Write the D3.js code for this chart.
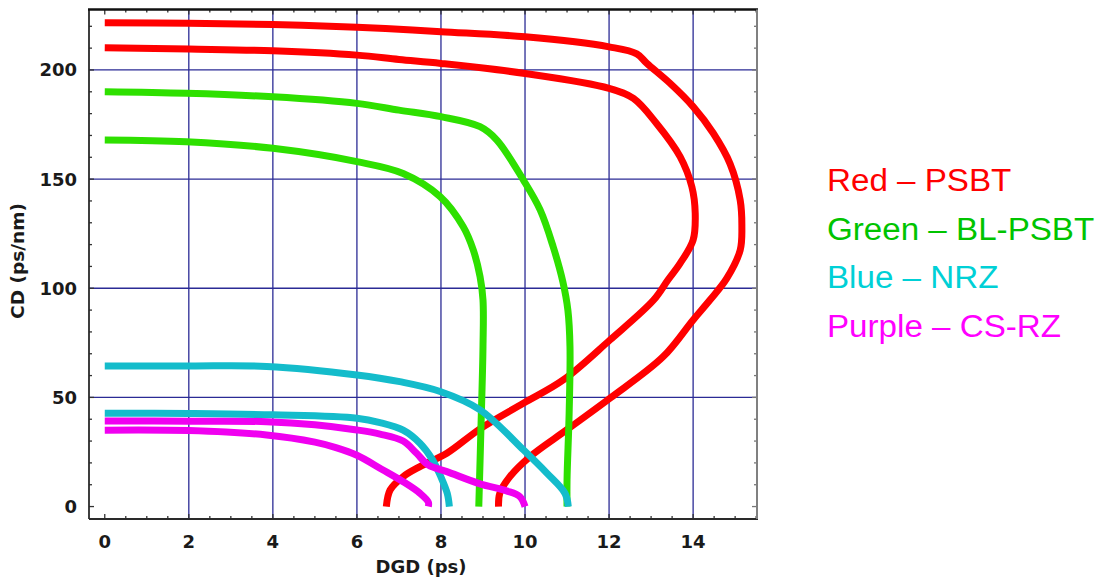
<!DOCTYPE html>
<html>
<head>
<meta charset="utf-8">
<script src="https://cdn.jsdelivr.net/npm/d3@7"></script>
<style>
body { margin: 0; background: #fff; }
</style>
</head>
<body>
<div id="chart"></div>
<script>
//Tick labels of the two axes
var xTickValues = [0, 2, 4, 6, 8, 10, 12, 14];
var yTickValues = [0, 50, 100, 150, 200];

//Legend texts
var legendLabels = ["Red \u2013 PSBT", "Green \u2013 BL-PSBT", "Blue \u2013 NRZ", "Purple \u2013 CS-RZ"];

//Curves: [DGD (ps), CD (ps/nm)]
var psbtOuter = [[0, 221.6], [2, 221.4], [4, 220.8], [6, 219.6], [7, 218.7], [8, 217.5], [10, 215.2], [12, 210.6],
    [12.66, 207.4], [12.9, 203], [13.45, 193.9], [14.0, 183.2], [14.48, 171], [14.88, 157], [15.12, 140.4],
    [15.16, 128.2], [15.12, 117.5], [14.8, 104.5], [14.4, 94.6], [14.0, 85.5], [13.29, 68.7], [12.02, 49.6],
    [10.99, 35.1], [10.12, 22.9], [9.64, 13.7], [9.4, 6.1], [9.37, 0]];
var psbtInner = [[0, 210.2], [2, 209.6], [4, 208.8], [6, 206.8], [7, 204.8], [8, 203], [10, 198.4], [12, 191.6],
    [12.58, 187], [13.13, 175.5], [13.69, 160.3], [13.97, 146.5], [14.05, 134.3], [14.0, 122.1], [13.69, 111.4],
    [13.4, 103.8], [13.06, 94.6], [12.02, 76.3], [10.91, 58], [9.96, 47.3], [8.93, 35.6], [8.14, 24.4],
    [7.5, 18.3], [7.1, 13.7], [6.79, 7.6], [6.7, 0]];
var blpsbtOuter = [[0, 190], [1.94, 189.3], [4, 187.7], [6, 184.7], [7, 181.6], [8, 178.6], [8.93, 174],
    [9.33, 167.9], [9.96, 149.6], [10.36, 135.9], [10.67, 119], [10.9, 103], [11.02, 90], [11.07, 73.3],
    [11.05, 42.8], [11.0, 12.2], [11.0, 0]];
var blpsbtInner = [[0, 167.9], [1.94, 167.1], [4, 164.1], [6, 158], [7.1, 152.6], [7.98, 142], [8.53, 128.2],
    [8.77, 117.5], [8.93, 105.3], [9.0, 94.6], [9.0, 73.3], [8.95, 35], [8.9, 0]];
var nrzOuter = [[0, 64.4], [2, 64.4], [3.85, 64.2], [6, 60.3], [7.02, 57.2], [7.98, 52.7], [8.93, 44.3],
    [9.96, 26], [10.52, 15.3], [10.95, 6.1], [11.03, 0]];
var nrzInner = [[0, 42.8], [2, 42.6], [4, 42], [6, 40.5], [6.55, 38.5], [7.1, 35], [7.5, 29], [7.8, 21.4],
    [8.0, 13.5], [8.15, 6], [8.2, 0]];
var csrzUpper = [[0, 39.2], [2, 39.1], [3.85, 38.9], [5, 37.5], [6, 35.1], [6.55, 33.2], [7.1, 30],
    [7.42, 24.4], [7.7, 19], [8.14, 16], [8.93, 10.4], [9.56, 7.2], [9.88, 4.5], [10, 0]];
var csrzLower = [[0, 35], [2, 34.8], [3.85, 32.8], [5, 29.5], [5.5, 27], [6, 23.5], [6.6, 17],
    [7.1, 11.4], [7.5, 6.1], [7.7, 2], [7.7, 0]];

var curves = [psbtOuter, psbtInner, blpsbtOuter, blpsbtInner, nrzOuter, nrzInner, csrzUpper, csrzLower];
var curveColors = ["#ff0000", "#ff0000", "#2ee000", "#2ee000", "#14bccb", "#14bccb", "#f000f0", "#f000f0"];
var legendColors = ["#ff0000", "#00c400", "#00d0d6", "#ff00ff"];

///////////////////////////////////////////////////////////////////////////
////////////////////////// Scales and svg /////////////////////////////////
///////////////////////////////////////////////////////////////////////////

var width = 1102, height = 580;

var x = d3.scaleLinear().domain([-0.375, 15.52]).range([89, 757]);
var y = d3.scaleLinear().domain([-5.7, 227.7]).range([519, 9.5]);

var svg = d3.select("#chart").append("svg")
    .attr("width", width)
    .attr("height", height);

var x0 = x.range()[0], x1 = x.range()[1];
var yB = y.range()[0], yT = y.range()[1];

//Grid lines
svg.append("g")
    .selectAll("line")
    .data(xTickValues.filter(function (d) { return d > 0; }))
    .enter().append("line")
    .attr("x1", function (d) { return x(d); })
    .attr("x2", function (d) { return x(d); })
    .attr("y1", yT).attr("y2", yB)
    .attr("stroke", "#2b2b95").attr("stroke-width", 1.3);

svg.append("g")
    .selectAll("line")
    .data(yTickValues.filter(function (d) { return d > 0; }))
    .enter().append("line")
    .attr("y1", function (d) { return y(d); })
    .attr("y2", function (d) { return y(d); })
    .attr("x1", x0).attr("x2", x1)
    .attr("stroke", "#2b2b95").attr("stroke-width", 1.3);

//Minor / major ticks, pointing inwards on all four sides
var xMinor = d3.range(0, 15.51, 0.5);
var yMinor = d3.range(0, 221, 10);
var ticks = svg.append("g").attr("stroke", "#333").attr("stroke-width", 1.3);

ticks.selectAll(".tb").data(xMinor).enter().append("line")
    .attr("x1", function (d) { return x(d); }).attr("x2", function (d) { return x(d); })
    .attr("y1", yB).attr("y2", function (d) { return yB - (d % 2 === 0 ? 5 : 3); });
ticks.selectAll(".tt").data(xMinor).enter().append("line")
    .attr("x1", function (d) { return x(d); }).attr("x2", function (d) { return x(d); })
    .attr("y1", yT).attr("y2", function (d) { return yT + (d % 2 === 0 ? 5 : 3); });
ticks.selectAll(".tl").data(yMinor).enter().append("line")
    .attr("y1", function (d) { return y(d); }).attr("y2", function (d) { return y(d); })
    .attr("x1", x0).attr("x2", function (d) { return x0 + (d % 50 === 0 ? 5 : 3); });
ticks.selectAll(".tr").data(yMinor).enter().append("line")
    .attr("y1", function (d) { return y(d); }).attr("y2", function (d) { return y(d); })
    .attr("x1", x1).attr("x2", function (d) { return x1 - (d % 50 === 0 ? 5 : 3); })
    .attr("stroke", "#777");

///////////////////////////////////////////////////////////////////////////
/////////////////////////////// Curves ////////////////////////////////////
///////////////////////////////////////////////////////////////////////////

var line = d3.line()
    .x(function (d) { return x(d[0]); })
    .y(function (d) { return y(d[1]); })
    .curve(d3.curveCatmullRom.alpha(0.5));

svg.append("g")
    .selectAll("path")
    .data(curves)
    .enter().append("path")
    .attr("d", line)
    .attr("fill", "none")
    .attr("stroke", function (d, i) { return curveColors[i]; })
    .attr("stroke-width", 7)
    .attr("stroke-linejoin", "round");

//Frame
svg.append("line").attr("x1", x0).attr("x2", x0).attr("y1", yT).attr("y2", yB)
    .attr("stroke", "#2a2a2a").attr("stroke-width", 1.8);
svg.append("line").attr("x1", x0).attr("x2", x1 + 1).attr("y1", yB).attr("y2", yB)
    .attr("stroke", "#2a2a2a").attr("stroke-width", 2);
svg.append("line").attr("x1", x0 - 1).attr("x2", x1 + 1).attr("y1", yT).attr("y2", yT)
    .attr("stroke", "#111").attr("stroke-width", 2.5);
svg.append("line").attr("x1", x1).attr("x2", x1).attr("y1", yT).attr("y2", yB)
    .attr("stroke", "#808080").attr("stroke-width", 2);

///////////////////////////////////////////////////////////////////////////
//////////////////////////// Labels ///////////////////////////////////////
///////////////////////////////////////////////////////////////////////////

var labelFont = "'DejaVu Sans', Verdana, sans-serif";

svg.append("g")
    .selectAll("text")
    .data(xTickValues)
    .enter().append("text")
    .attr("x", function (d) { return x(d); })
    .attr("y", 548)
    .attr("text-anchor", "middle")
    .style("font-family", labelFont).style("font-weight", "bold").style("font-size", "18px")
    .attr("fill", "#1a1a1a")
    .text(function (d) { return d; });

svg.append("g")
    .selectAll("text")
    .data(yTickValues)
    .enter().append("text")
    .attr("x", 77)
    .attr("y", function (d) { return y(d) + 6.5; })
    .attr("text-anchor", "end")
    .style("font-family", labelFont).style("font-weight", "bold").style("font-size", "18px")
    .attr("fill", "#1a1a1a")
    .text(function (d) { return d; });

svg.append("text")
    .attr("x", 421).attr("y", 573)
    .attr("text-anchor", "middle")
    .style("font-family", labelFont).style("font-weight", "bold").style("font-size", "18px")
    .attr("fill", "#1a1a1a")
    .text("DGD (ps)");

svg.append("text")
    .attr("transform", "translate(24,261) rotate(-90)")
    .attr("text-anchor", "middle")
    .style("font-family", labelFont).style("font-weight", "bold").style("font-size", "18.5px")
    .attr("fill", "#1a1a1a")
    .text("CD (ps/nm)");

//Legend
svg.append("g")
    .attr("transform", "translate(827,0) scale(1.07,1)")
    .selectAll("text")
    .data(legendLabels)
    .enter().append("text")
    .attr("x", 0)
    .attr("y", function (d, i) { return 191 + i * 48.7; })
    .style("font-family", "'Liberation Sans', Arial, sans-serif")
    .style("font-size", "31px")
    .attr("fill", function (d, i) { return legendColors[i]; })
    .text(function (d) { return d; });
</script>
</body>
</html>
